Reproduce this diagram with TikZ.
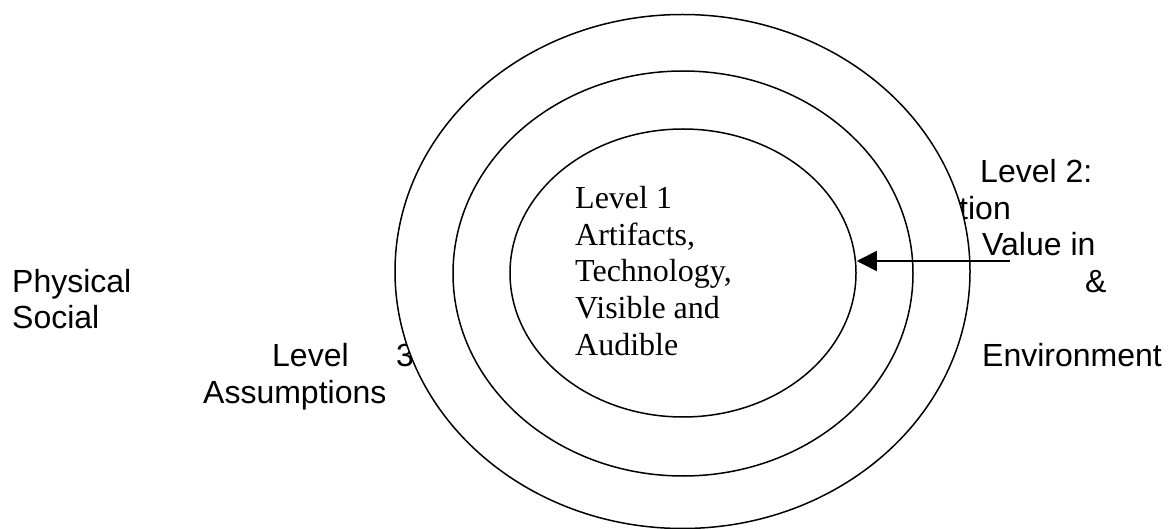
\documentclass[tikz,border=0pt]{standalone}
\usepackage{fontspec}
\setmainfont{Liberation Serif}
\newfontfamily\arialfont{Liberation Sans}
\usetikzlibrary{arrows.meta,shapes.geometric}
\begin{document}
\begin{tikzpicture}[x=1pt,y=-1pt,
  sanslabel/.style={anchor=base west,inner sep=0pt,font=\arialfont\fontsize{32}{36.7}\selectfont},
  seriflabel/.style={anchor=base west,inner sep=0pt,font=\fontsize{32}{36.7}\selectfont},
  ring/.style={draw=black,fill=white,line width=1.5pt},
  pointer/.style={draw=black,line width=1.5pt,-{Triangle[length=20pt,width=20pt]}}]
\useasboundingbox (0,0) rectangle (1168,529);
% outside texts (partly hidden by the rings)
\node[sanslabel] (phys) at (12,293) {Physical};
\node[sanslabel] (soc) at (12,329) {Social};
\node[sanslabel] (lvl3) at (272,367) {Level};
\node[sanslabel] (three) at (396,367) {3};
\node[sanslabel] (assum) at (203,403) {Assumptions};
\node[sanslabel] (lvl2) at (980,183) {Level 2:};
\node[sanslabel] (tion) at (959,220) {tion};
\node[sanslabel] (value) at (982,256) {Value in};
\node[sanslabel] (amp) at (1085,293) {\&};
\node[sanslabel] (env) at (982,367) {Environment};
% rings
\path[ring] (682.5,271.5) ellipse [x radius=287.5, y radius=257];
\path[ring] (683,273.5) ellipse [x radius=230, y radius=202.5];
\node[ring,ellipse,minimum width=346pt,minimum height=288pt,inner sep=0pt] (inner) at (683,273) {};
% inner text
\node[seriflabel] (l1a) at (575,209) {Level 1};
\node[seriflabel] (l1b) at (575,246) {Artifacts,};
\node[seriflabel] (l1c) at (575,282) {Technology,};
\node[seriflabel] (l1d) at (575,319) {Visible and};
\node[seriflabel] (l1e) at (575,356) {Audible};
% arrow
\coordinate (arrstart) at (1010,261);
\draw[pointer] (arrstart) -- (inner.east |- arrstart);
\end{tikzpicture}
\end{document}
